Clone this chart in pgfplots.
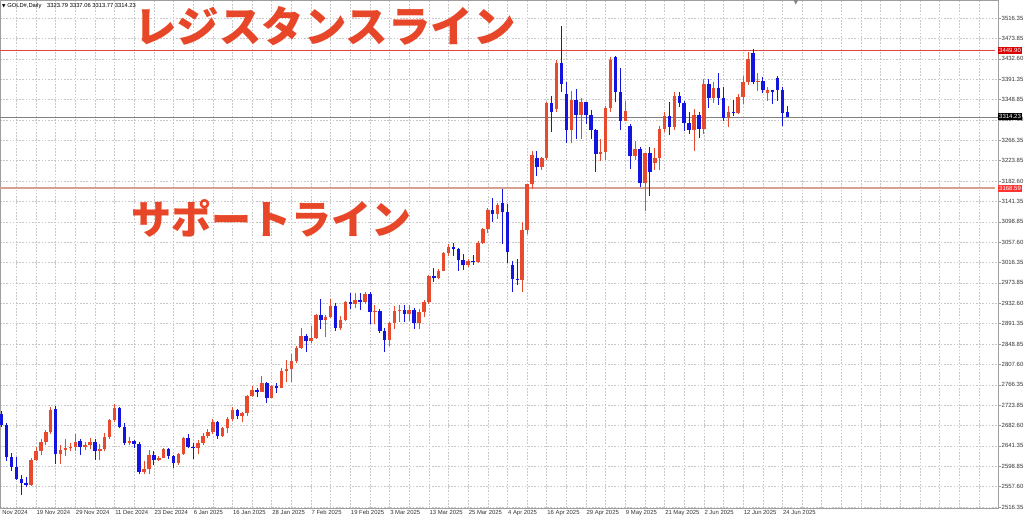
\documentclass[border=0pt]{standalone}
\usepackage{fontspec}
\setmainfont{Liberation Sans}
\newfontfamily\jp{Noto Sans CJK JP}
\newfontfamily\sym{DejaVu Sans}
\usepackage{pgfplots}
\usepackage{pgfplotstable}
\pgfplotsset{compat=1.18}

\definecolor{bull}{RGB}{232,74,46}
\definecolor{bear}{RGB}{20,20,225}
\definecolor{jpred}{RGB}{232,70,40}
\definecolor{supp}{RGB}{216,160,146}
\definecolor{resi}{RGB}{225,70,70}

% i = trading day, 0 = 19 Nov 2024
\pgfplotstableread{
i o h l c
-7 2706 2712 2680 2685
-6 2685 2689 2611 2619
-5 2619 2627 2590 2598
-4 2598 2618 2572 2573
-3 2573 2582 2540 2565
-2 2565 2577 2557 2562
-1 2562 2616 2559 2612
0 2612 2639 2610 2631
1 2631 2656 2623 2650
2 2650 2673 2643 2670
3 2670 2721 2665 2715
4 2716 2722 2605 2625
5 2625 2643 2605 2633
6 2633 2656 2621 2638
7 2638 2647 2630 2640
8 2640 2665 2630 2650
9 2652 2656 2622 2640
10 2640 2650 2632 2643
11 2643 2657 2634 2650
12 2650 2655 2613 2631
13 2631 2645 2613 2635
14 2635 2667 2630 2660
15 2660 2697 2655 2694
16 2694 2726 2691 2718
17 2718 2721 2677 2680
18 2680 2689 2643 2648
19 2648 2659 2643 2652
20 2652 2654 2637 2646
21 2646 2650 2583 2587
22 2587 2610 2583 2594
23 2594 2633 2583 2622
24 2622 2630 2602 2612
25 2612 2620 2610 2617
26 2617 2638 2616 2634
27 2634 2636 2615 2621
28 2621 2622 2596 2606
29 2606 2626 2603 2624
30 2624 2660 2622 2657
31 2657 2665 2636 2640
32 2640 2648 2614 2636
33 2636 2653 2624 2648
34 2648 2667 2644 2661
35 2661 2675 2657 2670
36 2670 2697 2665 2690
37 2690 2692 2656 2662
38 2662 2680 2660 2677
39 2677 2700 2668 2697
40 2697 2720 2692 2714
41 2714 2716 2697 2703
42 2703 2711 2690 2708
43 2708 2746 2703 2744
44 2744 2763 2741 2755
45 2755 2759 2741 2752
46 2752 2785 2752 2770
47 2770 2772 2730 2740
48 2740 2765 2739 2763
49 2763 2770 2750 2759
50 2759 2800 2759 2794
51 2794 2817 2773 2798
52 2798 2830 2772 2815
53 2815 2845 2810 2842
54 2842 2882 2840 2866
55 2866 2870 2834 2856
56 2856 2886 2852 2861
57 2861 2911 2860 2908
58 2908 2942 2880 2898
59 2898 2910 2864 2905
60 2905 2942 2903 2928
61 2928 2933 2877 2882
62 2882 2906 2879 2898
63 2898 2938 2897 2935
64 2935 2955 2922 2932
65 2932 2955 2924 2939
66 2939 2954 2919 2936
67 2936 2956 2931 2952
68 2952 2956 2890 2915
69 2915 2930 2890 2917
70 2917 2921 2873 2876
71 2876 2882 2833 2858
72 2858 2894 2845 2893
73 2893 2928 2880 2918
74 2918 2930 2894 2920
75 2920 2930 2895 2912
76 2912 2930 2896 2920
77 2920 2924 2881 2892
78 2892 2922 2880 2916
79 2916 2940 2905 2935
80 2935 2990 2932 2988
81 2988 3005 2977 2984
82 2984 3003 2982 3000
83 3000 3038 2999 3035
84 3035 3055 3029 3048
85 3048 3057 3030 3044
86 3044 3047 2999 3022
87 3022 3034 3002 3011
88 3011 3023 3008 3020
89 3020 3032 3012 3018
90 3018 3060 3015 3057
91 3057 3087 3055 3085
92 3085 3128 3077 3124
93 3124 3149 3100 3116
94 3116 3138 3105 3134
95 3138 3167 3054 3120
96 3120 3136 3015 3037
97 3012 3020 2956 2983
98 2983 3024 2970 2981
99 2981 3099 2957 3083
100 3083 3176 3075 3176
101 3176 3245 3167 3237
102 3230 3245 3193 3211
103 3211 3232 3205 3230
104 3230 3344 3225 3343
105 3343 3357 3284 3325
106 3330 3430 3325 3424
107 3424 3500 3366 3381
108 3360 3386 3260 3288
109 3288 3368 3260 3349
110 3349 3371 3268 3319
111 3319 3352 3269 3344
112 3344 3345 3300 3317
113 3317 3328 3268 3288
114 3288 3290 3202 3239
115 3239 3269 3223 3242
116 3242 3336 3226 3333
117 3333 3437 3325 3431
118 3436 3438 3344 3365
119 3365 3414 3288 3306
120 3306 3347 3305 3327
121 3296 3300 3207 3235
122 3235 3265 3226 3249
123 3249 3252 3171 3178
124 3178 3240 3121 3240
125 3240 3252 3153 3202
126 3220 3250 3206 3230
127 3230 3295 3205 3290
128 3290 3325 3283 3315
129 3315 3345 3278 3294
130 3294 3366 3287 3356
131 3356 3365 3335 3342
132 3342 3346 3285 3302
133 3302 3325 3280 3288
134 3288 3330 3245 3318
135 3318 3325 3271 3289
136 3289 3392 3280 3381
137 3381 3392 3333 3353
138 3353 3385 3343 3373
139 3373 3403 3339 3353
140 3353 3375 3306 3312
141 3312 3337 3293 3325
142 3325 3349 3316 3322
143 3322 3360 3320 3355
144 3355 3398 3341 3386
145 3386 3446 3380 3432
146 3445 3452 3382 3385
147 3385 3403 3367 3388
148 3388 3395 3363 3369
149 3364 3375 3347 3369
150 3370 3370 3341 3366
151 3393 3398 3347 3369
152 3369 3375 3295 3323
153 3323.79 3337.06 3313.77 3314.23
}\ohlc

\begin{document}
\begin{tikzpicture}
\useasboundingbox (0pt,0pt) rectangle (1024pt,520pt);
\begin{axis}[
  at={(0pt,12pt)}, anchor=south west,
  scale only axis, width=998pt, height=508pt,
  xmin=-7.33, xmax=195.9, ymin=2514.3, ymax=3553.2,
  clip=false,
  axis line style={gray!75, line width=0.7pt},
  tick align=outside, major tick length=3pt,
  xtick={-4,0,...,196},
  xticklabels={,19 Nov 2024,,29 Nov 2024,,11 Dec 2024,,23 Dec 2024,,6 Jan 2025,,16 Jan 2025,,28 Jan 2025,,7 Feb 2025,,19 Feb 2025,,3 Mar 2025,,13 Mar 2025,,25 Mar 2025,,4 Apr 2025,,16 Apr 2025,,29 Apr 2025,,9 May 2025,,21 May 2025,,2 Jun 2025,,12 Jun 2025,,24 Jun 2025,,,,,,,,,,,},
  xtick style={draw=none},
  xticklabel style={anchor=north west, font=\fontsize{5.9}{6}\selectfont, text=black!80, inner sep=0.5pt, yshift=1.5pt},
  ytick={2516.35,2558.017,2599.683,2641.35,2683.017,2724.683,2766.35,2808.017,2849.683,2891.35,2933.017,2974.683,3016.35,3058.017,3099.683,3141.35,3183.017,3224.683,3266.35,3308.017,3349.683,3391.35,3433.017,3474.683,3516.35},
  yticklabels={2516.35,2557.60,2598.85,2641.35,2682.60,2723.85,2766.35,2807.60,2848.85,2891.35,2932.60,2973.85,3016.35,3057.60,3098.85,3141.35,3182.60,3223.85,3266.35,3307.60,3348.85,3391.35,3432.60,3473.85,3516.35},
  yticklabel pos=right,
  ytick style={draw=gray!80, line width=0.5pt},
  yticklabel style={anchor=west, font=\fontsize{6}{6}\selectfont, text=black!80, inner sep=0.5pt},
  xmajorgrids, ymajorgrids,
  grid style={gray!45, dash pattern=on 1.6pt off 1.6pt, line width=0.5pt},
]
% price lines
\addplot[supp, line width=1.4pt] coordinates {(-7.33,3168.59) (195.3,3168.59)};
\addplot[resi, line width=0.6pt] coordinates {(-7.33,3449.90) (195.3,3449.90)};
\addplot[gray, line width=0.6pt] coordinates {(-7.33,3314.23) (195.9,3314.23)};

% wicks
\addplot[draw=none, restrict expr to domain={\thisrow{c}-\thisrow{o}}{0:100000},
  error bars/.cd, y dir=plus, y explicit, error mark=none,
  error bar style={draw=bull, line width=0.8pt, solid}]
  table[x=i, y=l, y error plus expr={\thisrow{h}-\thisrow{l}}] {\ohlc};
\addplot[draw=none, restrict expr to domain={\thisrow{o}-\thisrow{c}}{0.001:100000},
  error bars/.cd, y dir=plus, y explicit, error mark=none,
  error bar style={draw=bear, line width=0.8pt, solid}]
  table[x=i, y=l, y error plus expr={\thisrow{h}-\thisrow{l}}] {\ohlc};
% bodies
\addplot[draw=none, restrict expr to domain={\thisrow{c}-\thisrow{o}}{0:100000},
  error bars/.cd, y dir=plus, y explicit, error mark=none,
  error bar style={draw=bull, line width=3.5pt, solid}]
  table[x=i, y=o, y error plus expr={max(\thisrow{c}-\thisrow{o},2)}] {\ohlc};
\addplot[draw=none, restrict expr to domain={\thisrow{o}-\thisrow{c}}{0.001:100000},
  error bars/.cd, y dir=plus, y explicit, error mark=none,
  error bar style={draw=bear, line width=3.5pt, solid}]
  table[x=i, y=c, y error plus expr={max(\thisrow{o}-\thisrow{c},2)}] {\ohlc};

% price tags on the right
\node[fill=red!85!black, text=white, inner xsep=1pt, inner ysep=1.4pt, anchor=west, font=\fontsize{6}{6}\selectfont] at (axis cs:195.9,3449.90) {3449.90};
\node[fill=red!80, text=white, inner xsep=1pt, inner ysep=1.4pt, anchor=west, font=\fontsize{6}{6}\selectfont] at (axis cs:195.9,3168.59) {3168.59};
\node[fill=black, text=white, inner xsep=1pt, inner ysep=1.4pt, anchor=west, font=\fontsize{6}{6}\selectfont] at (axis cs:195.9,3314.23) {3314.23};
\node[anchor=north west, font=\fontsize{5.9}{6}\selectfont, text=black!80, inner sep=0.5pt] at (axis cs:-8,2514.3) [yshift=-1.5pt] {7 Nov 2024};
\end{axis}
% header and annotations
\node[anchor=west, font=\fontsize{5.8}{6}\selectfont, inner sep=0pt] at (2pt,514pt) {{\sym\fontsize{4.5}{5}\selectfont▼} GOLD\#,Daily\quad 3323.79 3337.06 3313.77 3314.23};
\node[text=gray, font=\sym\fontsize{6}{6}\selectfont, inner sep=0pt] at (796pt,517pt) {▼};
\node[text=jpred, font=\jp\bfseries\fontsize{42.5}{43}\selectfont, inner sep=0pt] at (325pt,494pt) {レジスタンスライン};
\node[text=jpred, font=\jp\bfseries\fontsize{40}{40}\selectfont, inner sep=0pt] at (271pt,302pt) {サポートライン};
\end{tikzpicture}
\end{document}
